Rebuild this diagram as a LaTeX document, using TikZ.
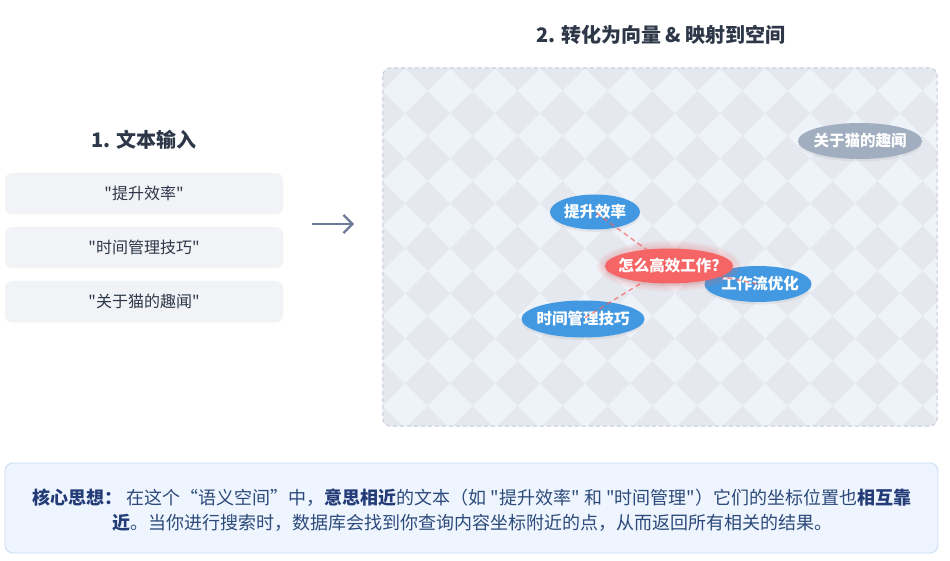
\documentclass[tikz,border=0pt]{standalone}
\usepackage{fontspec}
\setmainfont{Noto Sans CJK SC}[Ligatures=TeXOff]
\usetikzlibrary{shapes.geometric,shadows,arrows.meta}
\definecolor{titlec}{HTML}{2D3748}
\definecolor{boxfill}{HTML}{F1F3F6}
\definecolor{arrowc}{HTML}{6E7A99}
\definecolor{panelbg}{HTML}{EAEEF4}
\definecolor{lightd}{HTML}{EEF2F9}
\definecolor{darkd}{HTML}{E5E9EF}
\definecolor{panelborder}{HTML}{C4CCD8}
\definecolor{blueell}{HTML}{4299E1}
\definecolor{redell}{HTML}{F56565}
\definecolor{grayell}{HTML}{A0AEC0}
\definecolor{notebg}{HTML}{EEF5FE}
\definecolor{noteborder}{HTML}{C9DCF5}
\definecolor{notetext}{HTML}{2C4A7A}
\definecolor{notebold}{HTML}{233C78}
\pgfdeclarelayer{bg}
\pgfdeclarelayer{ell}
\pgfdeclarelayer{lns}
\pgfsetlayers{bg,ell,lns,main}
\newcommand\hlt[1]{{\bfseries\color{notebold}#1}}
\tikzset{
  titlestyle/.style={font=\fontsize{20}{24}\selectfont\bfseries, text=titlec, inner sep=0},
  inbox/.style={rectangle, rounded corners=7, fill=boxfill, minimum width=278, minimum height=40,
     inner sep=0, font=\fontsize{16}{19}\selectfont, text=titlec,
     drop shadow={opacity=0.08, shadow xshift=0pt, shadow yshift=-1.5pt}},
  arrowstyle/.style={draw=arrowc, line width=2.2pt, -{Straight Barb[length=9pt, width=18pt, line width=2.2pt]}},
  panelstyle/.style={rectangle, rounded corners=8, minimum width=554, minimum height=358, inner sep=0},
  vec/.style={ellipse, inner sep=0,
     drop shadow={opacity=0.12, shadow xshift=0pt, shadow yshift=-2.5pt}},
  vectext/.style={inner sep=0, text=white, font=\fontsize{15.5}{18}\selectfont\bfseries},
  bluevec/.style={vec, fill=blueell},
  grayvec/.style={vec, fill=grayell},
  redvec/.style={vec, fill=redell},
  simline/.style={draw=redell, opacity=0.7, line width=1.5pt, dash pattern=on 5pt off 3.5pt},
  notebox/.style={rectangle, rounded corners=8, fill=notebg, draw=noteborder, line width=0.8pt,
     minimum width=933, minimum height=90, inner sep=0},
  notetextstyle/.style={align=center, text=notetext, font=\fontsize{18}{25}\selectfont, inner sep=0}
}
\begin{document}
\begin{tikzpicture}[x=1pt,y=-1pt]
\useasboundingbox (0,0) rectangle (950,561);
\begin{pgfonlayer}{bg}
\fill[white] (0,0) rectangle (950,561);
\end{pgfonlayer}

% left column
\node[titlestyle] (t1) at (144,140) {1. 文本输入};
\node[inbox] (b1) at (144,193) {"提升效率"};
\node[inbox] (b2) at (144,247) {"时间管理技巧"};
\node[inbox] (b3) at (144,301) {"关于猫的趣闻"};

% arrow
\coordinate (as) at (312,224);
\coordinate (ae) at (354,224);
\draw[arrowstyle] (as) -- (ae);

% right column
\node[titlestyle] (t2) at (661,35) {2. 转化为向量 \& 映射到空间};

\begin{pgfonlayer}{bg}
\node[panelstyle, fill=panelbg] (panel) at (660,247) {};
\begin{scope}
\clip[rounded corners=8] (panel.north west) rectangle (panel.south east);
\foreach \i in {-1,...,12} {
  \foreach \j in {-1,...,8} {
    \fill[lightd] ({405+45*\i},{68.5+45*\j}) -- ++(22.5,22.5) -- ++(-22.5,22.5) -- ++(-22.5,-22.5) -- cycle;
    \fill[darkd] ({427.5+45*\i},{91+45*\j}) -- ++(22.5,22.5) -- ++(-22.5,22.5) -- ++(-22.5,-22.5) -- cycle;
  }
}
\end{scope}
\draw[panelborder, line width=1pt, dash pattern=on 4pt off 3pt, rounded corners=8]
  (panel.north west) rectangle (panel.south east);
\end{pgfonlayer}

\begin{pgfonlayer}{ell}
\node[grayvec, minimum width=124, minimum height=36] (cat) at (860,141) {};
\node[vectext] (catt) at (cat.center) {关于猫的趣闻};
\node[bluevec, minimum width=90, minimum height=35] (eff) at (595,212) {};
\node[vectext] (efft) at (eff.center) {提升效率};
\node[bluevec, minimum width=107, minimum height=36] (flow) at (758,284) {};
\node[vectext] (flowt) at ([xshift=2pt]flow.center) {工作流优化};
\node[bluevec, minimum width=123, minimum height=37] (time) at (583,319) {};
\node[vectext] (timet) at (time.center) {时间管理技巧};
\end{pgfonlayer}

\node[redvec, minimum width=128, minimum height=35] (q) at (669,266) {};
\node[vectext] (qt) at (q.center) {怎么高效工作?};

\begin{pgfonlayer}{lns}
\draw[simline] (q.center) -- (eff.center);
\draw[simline] (q.center) -- (time.center);
\draw[simline] (q.center) -- (flow.center);
\foreach \k in {1,...,7} {
  \fill[redell, opacity=0.045] (q.center) ellipse [x radius={64+1.2*\k}, y radius={17.5+1.2*\k}];
}
\end{pgfonlayer}

% note
\node[notebox] (note) at (471.5,508) {};
\node[notetextstyle] (notetxt) at (472,510) {\hlt{核心思想：} 在这个“语义空间”中，\hlt{意思相近}的文本（如 "提升效率" 和 "时间管理"）它们的坐标位置也\hlt{相互靠}\\\hlt{近}。当你进行搜索时，数据库会找到你查询内容坐标附近的点，从而返回所有相关的结果。};
\end{tikzpicture}
\end{document}
